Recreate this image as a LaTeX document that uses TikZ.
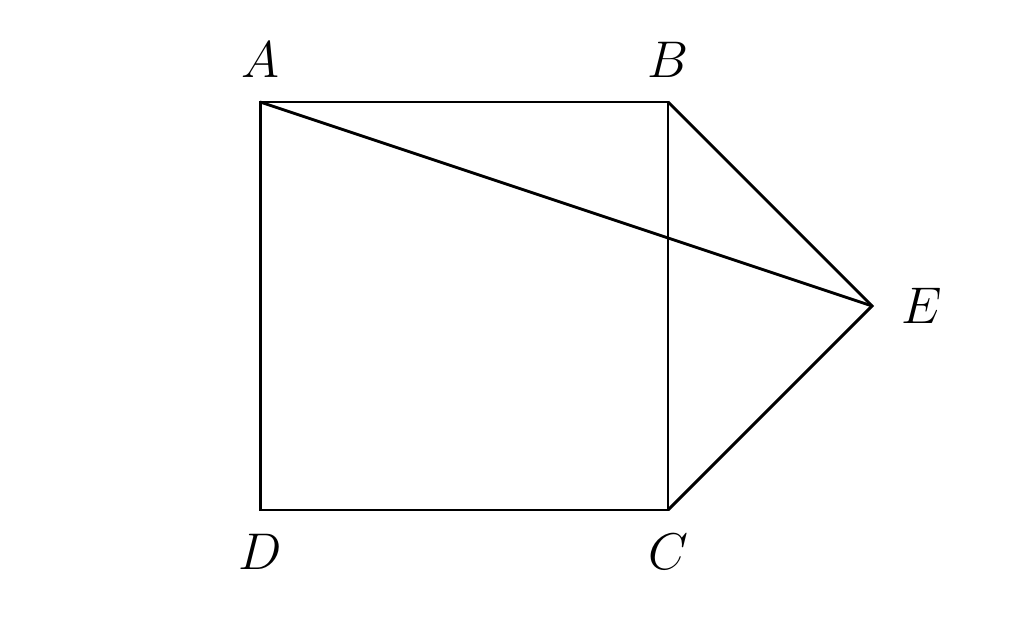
\documentclass[tikz,border=0pt]{standalone}
\usepackage{amsmath}
\usetikzlibrary{positioning}

\begin{document}
\begin{tikzpicture}[
        node distance=.2cm,
        lbl/.style={font=\Large, inner sep=1pt},
        edge/.style={thick}
        ]
        \useasboundingbox (-2.55,-1.13) rectangle (7.49,5.0);

        \coordinate (A) at (0,4);
        \coordinate (B) at (4,4);
        \coordinate (C) at (4,0);
        \coordinate (D) at (0,0);
        \coordinate (E) at (6,2);

        \node[lbl, above=.2cm of A] (lA) {$A$};
        \node[lbl, above=.2cm of B] (lB) {$B$};
        \node[lbl, below=.2cm of C] (lC) {$C$};
        \node[lbl, below=.2cm of D] (lD) {$D$};
        \node[lbl, right=.25cm of E] (lE) {$E$};

        \draw[edge] (A) -- (B) -- (C) -- (D) -- cycle;
        \draw[edge] (B) -- (E) -- (C);
        \draw[edge] (A) -- (E);
    \end{tikzpicture}
\end{document}
